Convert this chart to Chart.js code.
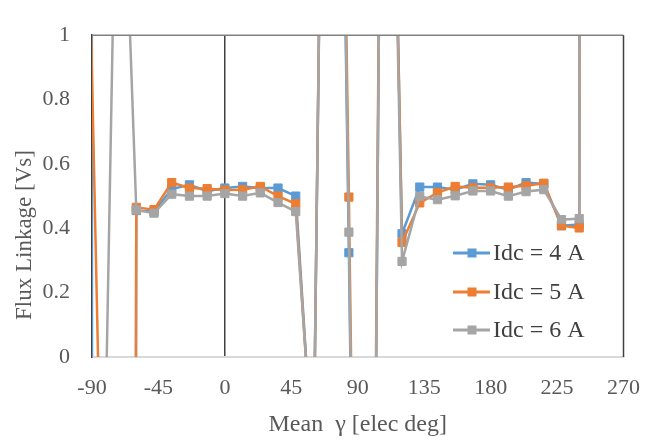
<!DOCTYPE html>
<html>
<head>
<meta charset="utf-8">
<script src="https://cdn.jsdelivr.net/npm/chart.js@4.4.1/dist/chart.umd.min.js"></script>
<style>
  html, body { margin: 0; padding: 0; background: #fff; }
  #wrap { width: 658px; height: 441px; position: relative; }
</style>
</head>
<body>
<div id="wrap"><canvas id="fluxChart"></canvas></div>
<script>
// mean gamma [elec deg] for each sample
const gamma = [-96, -84, -72, -60, -48, -36, -24, -12, 0, 12, 24, 36, 48, 60, 72,
  84, 96, 108, 120, 132, 144, 156, 168, 180, 192, 204, 216, 228, 240, 252];

// flux linkage [Vs] per dc current
const idc4 = [60, -60, -25, 0.455, 0.452, 0.522, 0.535, 0.515, 0.525, 0.530, 0.525, 0.525, 0.500, -0.36, 4.0,
  0.324, -3.7, 3.1, 0.383, 0.528, 0.528, 0.520, 0.538, 0.535, 0.520, 0.542, 0.538, 0.408, 0.412, 40];
const idc5 = [2.17, -0.41, -25, 0.465, 0.458, 0.542, 0.525, 0.523, 0.519, 0.520, 0.530, 0.500, 0.476, -0.36, 4.1,
  0.497, -3.6, 3.2, 0.356, 0.479, 0.511, 0.530, 0.526, 0.526, 0.528, 0.532, 0.540, 0.408, 0.401, 40];
const idc6 = [-3, -1.0, 2.0, 0.457, 0.447, 0.506, 0.500, 0.500, 0.508, 0.500, 0.510, 0.480, 0.452, -0.34, 4.0,
  0.388, -3.66, 3.1, 0.297, 0.499, 0.489, 0.501, 0.516, 0.516, 0.500, 0.514, 0.520, 0.427, 0.430, 40];

const seriesLabels = ["Idc = 4 A", "Idc = 5 A", "Idc = 6 A"];
const seriesColors = ["#5B9BD5", "#ED7D31", "#A5A5A5"];

const xTicks = [-90, -45, 0, 45, 90, 135, 180, 225, 270];
const yTicks = [0, 0.2, 0.4, 0.6, 0.8, 1];

const serif = "'Times New Roman', 'Liberation Serif', serif";
const textColor = "#595959";

function toPoints(values) {
  return values.map((v, i) => ({ x: gamma[i], y: v }));
}

function makeDataset(values, idx) {
  return {
    label: seriesLabels[idx],
    data: toPoints(values),
    borderColor: seriesColors[idx],
    backgroundColor: seriesColors[idx],
    borderWidth: 2.5,
    pointStyle: "rect",
    pointRadius: 5.8,
    pointBorderWidth: 1,
    pointBackgroundColor: seriesColors[idx],
    pointBorderColor: seriesColors[idx],
    tension: 0,
    order: 3 - idx,
  };
}

// top/right frame, rotated y title and the inset legend
const extrasPlugin = {
  id: "extras",
  afterDraw(chart) {
    const { ctx, chartArea: a } = chart;
    ctx.save();

    ctx.lineWidth = 1.5;
    ctx.strokeStyle = "#808080";
    ctx.beginPath();
    ctx.moveTo(a.left, a.top);
    ctx.lineTo(a.right, a.top);
    ctx.stroke();
    ctx.strokeStyle = "#404040";
    ctx.beginPath();
    ctx.moveTo(a.right, a.top);
    ctx.lineTo(a.right, a.bottom);
    ctx.stroke();

    ctx.fillStyle = textColor;
    ctx.font = "23px " + serif;
    ctx.textAlign = "center";
    ctx.textBaseline = "middle";
    ctx.translate(25, 235);
    ctx.rotate(-Math.PI / 2);
    ctx.fillText("Flux Linkage [Vs]", 0, 0);
    ctx.setTransform(1, 0, 0, 1, 0, 0);

    const rows = [253, 292, 330];
    chart.data.datasets.forEach((ds, i) => {
      const y = rows[i];
      ctx.strokeStyle = ds.borderColor;
      ctx.lineWidth = 3;
      ctx.beginPath();
      ctx.moveTo(453, y);
      ctx.lineTo(490, y);
      ctx.stroke();
      ctx.fillStyle = ds.borderColor;
      ctx.fillRect(467.5, y - 4.5, 9, 9);
      ctx.fillStyle = "#404040";
      ctx.font = "24px " + serif;
      ctx.textAlign = "left";
      ctx.fillText(ds.label, 493, y + 1);
    });
    ctx.restore();
  },
};

const chart = new Chart(document.getElementById("fluxChart"), {
  type: "line",
  data: {
    datasets: [makeDataset(idc4, 0), makeDataset(idc5, 1), makeDataset(idc6, 2)],
  },
  options: {
    responsive: true,
    maintainAspectRatio: false,
    animation: false,
    devicePixelRatio: 1,
    layout: { padding: { top: 17, right: 31, left: 0, bottom: 0 } },
    plugins: {
      legend: { display: false },
      tooltip: { enabled: false },
    },
    scales: {
      x: {
        type: "linear",
        min: -90,
        max: 270,
        afterBuildTicks: (scale) => {
          scale.ticks = xTicks.map((v) => ({ value: v }));
        },
        afterFit: (scale) => {
          scale.height = 84;
        },
        ticks: {
          font: { family: serif, size: 22 },
          color: textColor,
          padding: 18,
          maxRotation: 0,
        },
        grid: {
          drawTicks: false,
          lineWidth: 1.5,
          color: (c) => (c.tick && c.tick.value === 0 ? "#404040" : "transparent"),
        },
        border: { color: "#d9d9d9", width: 2 },
        title: {
          display: true,
          text: "Mean  γ [elec deg]",
          font: { family: serif, size: 24 },
          color: textColor,
          padding: { top: 0, bottom: 2 },
        },
      },
      y: {
        min: 0,
        max: 1,
        afterBuildTicks: (scale) => {
          scale.ticks = yTicks.map((v) => ({ value: v }));
        },
        afterFit: (scale) => {
          scale.width = 92;
        },
        ticks: {
          font: { family: serif, size: 22 },
          color: textColor,
          padding: 22,
          callback: (v) => String(v),
        },
        grid: { drawTicks: false, color: "transparent" },
        border: { color: "#404040", width: 1.5 },
      },
    },
  },
  plugins: [extrasPlugin],
});
</script>
</body>
</html>
